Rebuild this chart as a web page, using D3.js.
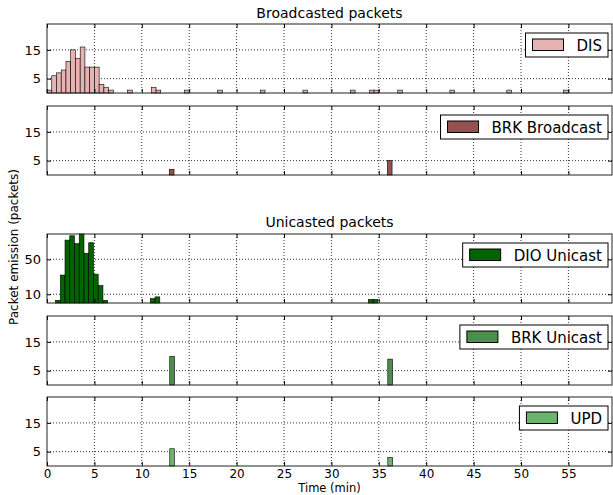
<!DOCTYPE html>
<html>
<head>
<meta charset="utf-8">
<script src="https://cdn.jsdelivr.net/npm/d3@7"></script>
<style>
    body { margin: 0; background: #fff; }
    svg { font-family: "DejaVu Sans", sans-serif; }
    .grid line { stroke: #000; stroke-width: 0.8; stroke-dasharray: 1,2; }
</style>
</head>
<body>
<div id="svg-area"></div>
<script>
// bin start times (min) and packet counts, bins are 0.5 min wide
var disStart = [0, 0.5, 1, 1.5, 2, 2.5, 3, 3.5, 4, 4.5, 5, 5.5, 6, 6.5, 8.5, 11, 11.5, 14.5, 18, 22.5, 27, 32, 34, 34.5, 37, 42.5, 48.5, 54.5];
var disCount = [1, 6, 7, 8, 11, 15, 12, 16, 9, 9, 9, 3, 2, 1, 1, 2, 1, 1, 1, 1, 1, 1, 1, 1, 1, 1, 1, 1];

var brkBcStart = [12.9, 35.9];
var brkBcCount = [2, 5];

var dioStart = [0.9, 1.4, 1.9, 2.4, 2.9, 3.4, 3.9, 4.4, 4.9, 5.4, 5.9, 10.9, 11.4, 33.9, 34.4];
var dioCount = [3, 32, 72, 77, 68, 79, 57, 69, 33, 20, 3, 5, 7, 4, 4];

var brkUcStart = [12.95, 35.95];
var brkUcCount = [10, 9];

var updStart = [12.95, 35.95];
var updCount = [6, 3];

var binWidth = 0.5;
var xTicks = [0, 5, 10, 15, 20, 25, 30, 35, 40, 45, 50, 55];
var smallTicks = [5, 15];
var dioTicks = [10, 50];

var svgWidth = 613;
var svgHeight = 495;

var margin = { left: 47, right: 1 };
var width = svgWidth - margin.left - margin.right;
var panelHeight = 69;

var svg = d3.select("#svg-area")
    .append("svg")
    .attr("width", svgWidth)
    .attr("height", svgHeight)
;

var xScale = d3.scaleLinear()
    .domain([0, 59.6])
    .range([0, width])
;

var panels = [
    { top: 24, label: "DIS", color: "#e6b2b2", starts: disStart, counts: disCount, ymax: 24, ticks: smallTicks },
    { top: 106, label: "BRK Broadcast", color: "#965050", starts: brkBcStart, counts: brkBcCount, ymax: 24, ticks: smallTicks },
    { top: 234, label: "DIO Unicast", color: "#006400", starts: dioStart, counts: dioCount, ymax: 79, ticks: dioTicks },
    { top: 316, label: "BRK Unicast", color: "#4c8f4c", starts: brkUcStart, counts: brkUcCount, ymax: 24, ticks: smallTicks },
    { top: 397, label: "UPD", color: "#6cb46c", starts: updStart, counts: updCount, ymax: 24, ticks: smallTicks }
];

function drawPanel(p, isLast) {
    var g = svg.append("g")
        .attr("transform", `translate(${margin.left}, ${p.top})`)
    ;

    var yScale = d3.scaleLinear()
        .domain([0, p.ymax])
        .range([panelHeight, 0])
    ;

    // grid lines
    g.append("g")
        .attr("class", "grid")
        .selectAll("line")
        .data(xTicks.slice(1))
        .enter()
        .append("line")
        .attr("x1", d => xScale(d))
        .attr("x2", d => xScale(d))
        .attr("y1", 0)
        .attr("y2", panelHeight)
    ;

    g.append("g")
        .attr("class", "grid")
        .selectAll("line")
        .data(p.ticks)
        .enter()
        .append("line")
        .attr("x1", 0)
        .attr("x2", width)
        .attr("y1", d => yScale(d))
        .attr("y2", d => yScale(d))
    ;

    // bars
    var bins = p.starts.map((s, i) => ({ x: s, n: p.counts[i] }));
    g.selectAll(".bar")
        .data(bins)
        .enter()
        .append("rect")
        .attr("class", "bar")
        .attr("x", d => xScale(d.x))
        .attr("width", xScale(binWidth) - xScale(0))
        .attr("y", d => yScale(d.n))
        .attr("height", d => panelHeight - yScale(d.n))
        .attr("fill", p.color)
        .attr("stroke", "#000")
        .attr("stroke-width", 0.6)
    ;

    // axes with inward ticks on every side
    g.append("g")
        .call(d3.axisLeft(yScale).tickValues(p.ticks).tickSize(-4).tickPadding(6))
    ;
    g.append("g")
        .attr("transform", `translate(${width}, 0)`)
        .call(d3.axisRight(yScale).tickValues(p.ticks).tickSize(-4).tickFormat(""))
    ;
    g.append("g")
        .call(d3.axisTop(xScale).tickValues(xTicks).tickSize(-4).tickFormat(""))
    ;
    var bottom = g.append("g")
        .attr("transform", `translate(0, ${panelHeight})`)
        .call(d3.axisBottom(xScale).tickValues(xTicks).tickSize(-4).tickPadding(3))
    ;
    if (!isLast) {
        bottom.selectAll("text").remove();
    }

    g.selectAll(".domain").remove();
    g.selectAll(".tick line").attr("stroke", "#000");
    g.selectAll(".tick text")
        .attr("fill", "#000")
        .style("font-size", "13px")
        .style("font-family", "DejaVu Sans")
    ;
    bottom.selectAll("text").style("font-size", "12px");

    // frame
    g.append("rect")
        .attr("width", width)
        .attr("height", panelHeight)
        .attr("fill", "none")
        .attr("stroke", "#222")
        .attr("stroke-width", 1)
    ;

    // legend
    var lg = g.append("g");
    var box = lg.append("rect")
        .attr("fill", "#fff")
        .attr("stroke", "#000")
        .attr("stroke-width", 1)
    ;
    var txt = lg.append("text")
        .attr("x", 0)
        .attr("y", 0)
        .style("font-size", "15px")
        .text(p.label)
    ;
    var tw = txt.node().getComputedTextLength();
    var boxW = 7 + 31 + 13 + tw + 6;
    var boxX = width - 4 - boxW;
    var boxY = 9;
    box.attr("x", boxX).attr("y", boxY).attr("width", boxW).attr("height", 24);
    lg.append("rect")
        .attr("x", boxX + 7)
        .attr("y", boxY + 6)
        .attr("width", 31)
        .attr("height", 11.5)
        .attr("fill", p.color)
        .attr("stroke", "#000")
        .attr("stroke-width", 1)
    ;
    txt.attr("x", boxX + 51).attr("y", boxY + 17.5);
}

panels.forEach((p, i) => drawPanel(p, i == panels.length - 1));

// Titles
svg.append("text")
    .attr("x", margin.left + width / 2)
    .attr("y", 18)
    .attr("text-anchor", "middle")
    .style("font-size", "14px")
    .text("Broadcasted packets")
;

svg.append("text")
    .attr("x", margin.left + width / 2)
    .attr("y", 227)
    .attr("text-anchor", "middle")
    .style("font-size", "14px")
    .text("Unicasted packets")
;

// Axis labels
svg.append("text")
    .attr("x", margin.left + width / 2)
    .attr("y", 492)
    .attr("text-anchor", "middle")
    .style("font-size", "11.5px")
    .text("Time (min)")
;

svg.append("text")
    .attr("transform", "rotate(-90)")
    .attr("x", -247)
    .attr("y", 18)
    .attr("text-anchor", "middle")
    .style("font-size", "12px")
    .text("Packet emission (packets)")
;
</script>
</body>
</html>
